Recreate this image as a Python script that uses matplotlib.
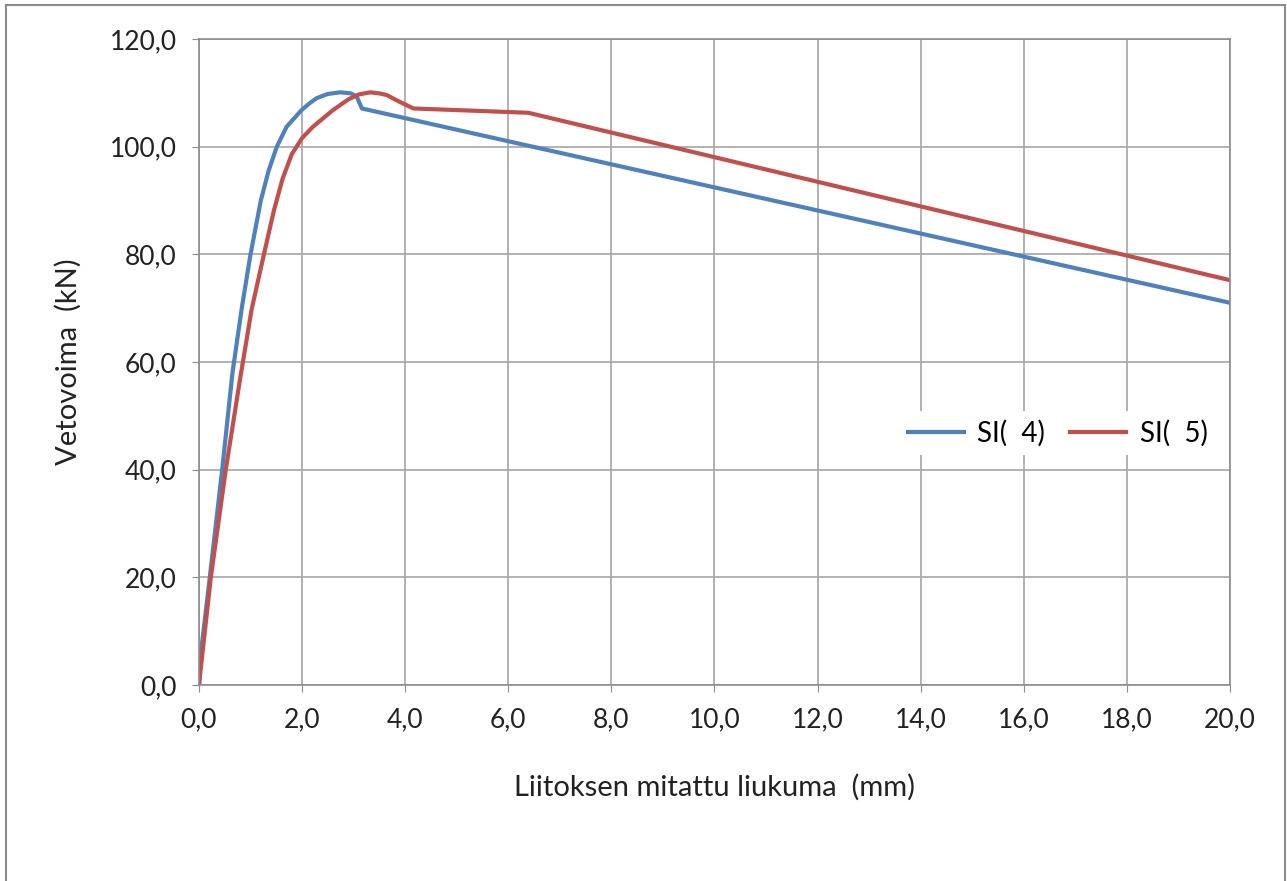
import matplotlib.pyplot as plt
from matplotlib.lines import Line2D
from matplotlib.ticker import FuncFormatter, MultipleLocator

# slip (mm) and force (kN)
si4_x = [0.0, 0.05, 0.21, 0.45, 0.65, 0.83, 1.00, 1.20, 1.35, 1.51, 1.70,
         1.99, 2.15, 2.28, 2.50, 2.74, 2.95, 3.06, 3.16, 20.0]
si4_y = [0.0, 7.0, 20.0, 40.0, 58.0, 70.0, 80.0, 90.0, 95.5, 100.0, 103.7,
         106.8, 108.1, 109.0, 109.8, 110.1, 109.9, 109.3, 107.1, 71.0]

si5_x = [0.0, 0.08, 0.23, 0.52, 0.80, 1.02, 1.26, 1.45, 1.62, 1.80, 2.00, 2.21,
         2.60, 2.90, 3.10, 3.32, 3.50, 3.64, 3.90, 4.16, 6.39, 20.0]
si5_y = [0.0, 7.0, 20.0, 40.0, 57.0, 69.7, 80.0, 88.0, 94.0, 98.6, 101.6, 103.7,
         106.8, 108.8, 109.7, 110.1, 109.9, 109.6, 108.3, 107.1, 106.3, 75.2]

plt.rcParams['font.family'] = ['Lato', 'DejaVu Sans']

fig = plt.figure(figsize=(12.87, 8.81), dpi=100)
ax = fig.add_axes([0.1546, 0.2225, 0.8011, 0.7332])

ax.plot(si4_x, si4_y, color='#4F81BD', lw=3.0, label='SI(  4)')
ax.plot(si5_x, si5_y, color='#C0504D', lw=3.0, label='SI(  5)')

ax.set_xlim(0, 20)
ax.set_ylim(0, 120)
ax.xaxis.set_major_locator(MultipleLocator(2))
ax.yaxis.set_major_locator(MultipleLocator(20))
fmt = FuncFormatter(lambda v, p: f"{v:.1f}".replace('.', ','))
ax.xaxis.set_major_formatter(fmt)
ax.yaxis.set_major_formatter(fmt)

ax.grid(True, color='#a6a6a6', lw=1.2)
ax.set_axisbelow(True)
for s in ax.spines.values():
    s.set_color('#8c8c8c')
    s.set_linewidth(1.2)
ax.tick_params(length=5, color='#8c8c8c', labelsize=19, labelcolor='#222222', pad=11)

ax.set_xlabel('Liitoksen mitattu liukuma  (mm)', fontsize=21, color='#222222', labelpad=30)
ax.set_ylabel('Vetovoima  (kN)', fontsize=21, color='#222222', labelpad=20)

leg = ax.legend(loc='center', bbox_to_anchor=(0.833, 0.39), ncol=2, fontsize=20,
                frameon=True, edgecolor='none', facecolor='white', framealpha=1,
                handlelength=2.0, handletextpad=0.5, columnspacing=0.9, borderpad=0.3)
leg.get_frame().set_linewidth(0)

# outer chart frame (bottom edge is cut off in the reference)
fx0, fx1, fy1 = 6 / 1287, 1285 / 1287, 1 - 5 / 881
for xs, ys in [([fx0, fx0], [0, fy1]), ([fx0, fx1], [fy1, fy1]), ([fx1, fx1], [fy1, 0])]:
    fig.add_artist(Line2D(xs, ys, color='#8c8c8c', lw=1.5, transform=fig.transFigure))

fig.savefig('out.png', dpi=100)
